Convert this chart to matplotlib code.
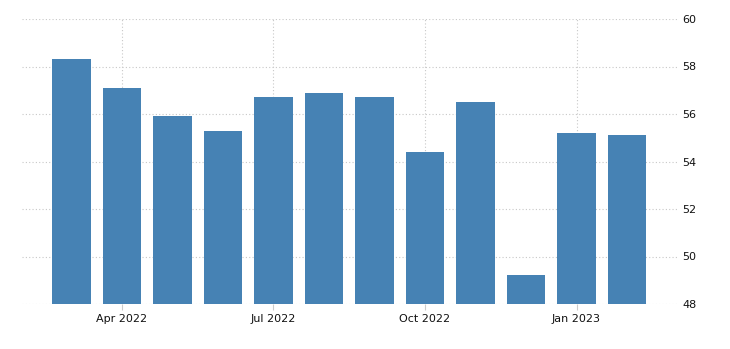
import matplotlib
matplotlib.use("Agg")
import matplotlib.pyplot as plt

months = ["Mar 2022", "Apr 2022", "May 2022", "Jun 2022", "Jul 2022", "Aug 2022",
          "Sep 2022", "Oct 2022", "Nov 2022", "Dec 2022", "Jan 2023", "Feb 2023"]
values = [58.3, 57.1, 55.9, 55.3, 56.7, 56.9, 56.7, 54.4, 56.5, 49.2, 55.2, 55.1]
tick_labels = ["Apr 2022", "Jul 2022", "Oct 2022", "Jan 2023"]
y_ticks = [48, 50, 52, 54, 56, 58, 60]

fig = plt.figure(figsize=(7.3, 3.49), dpi=100)
ax = fig.add_axes([22/730, 1-304/349, (677-22)/730, (304-19)/349])

x = list(range(len(months)))
ax.bar(x, [v - 48 for v in values], bottom=48, width=0.77, color="#4682B4", zorder=2)

ax.set_ylim(48, 60)
ax.set_xlim(-0.98, 11.99)
ax.set_yticks(y_ticks)
ax.set_yticklabels([str(t) for t in y_ticks])
ax.yaxis.tick_right()
ax.tick_params(axis="y", length=0, pad=4, labelsize=8, labelcolor="#111111")

tpos = [months.index(t) for t in tick_labels]
ax.set_xticks(tpos)
ax.set_xticklabels(tick_labels)
ax.tick_params(axis="x", length=4, color="#cccccc", pad=3, labelsize=8, labelcolor="#111111")

ax.grid(True, axis="both", linestyle=(0, (1, 2)), color="#c8c8c8", linewidth=0.8, zorder=0)
ax.set_axisbelow(True)
for s in ax.spines.values():
    s.set_visible(False)

fig.savefig("out.png", dpi=100)
